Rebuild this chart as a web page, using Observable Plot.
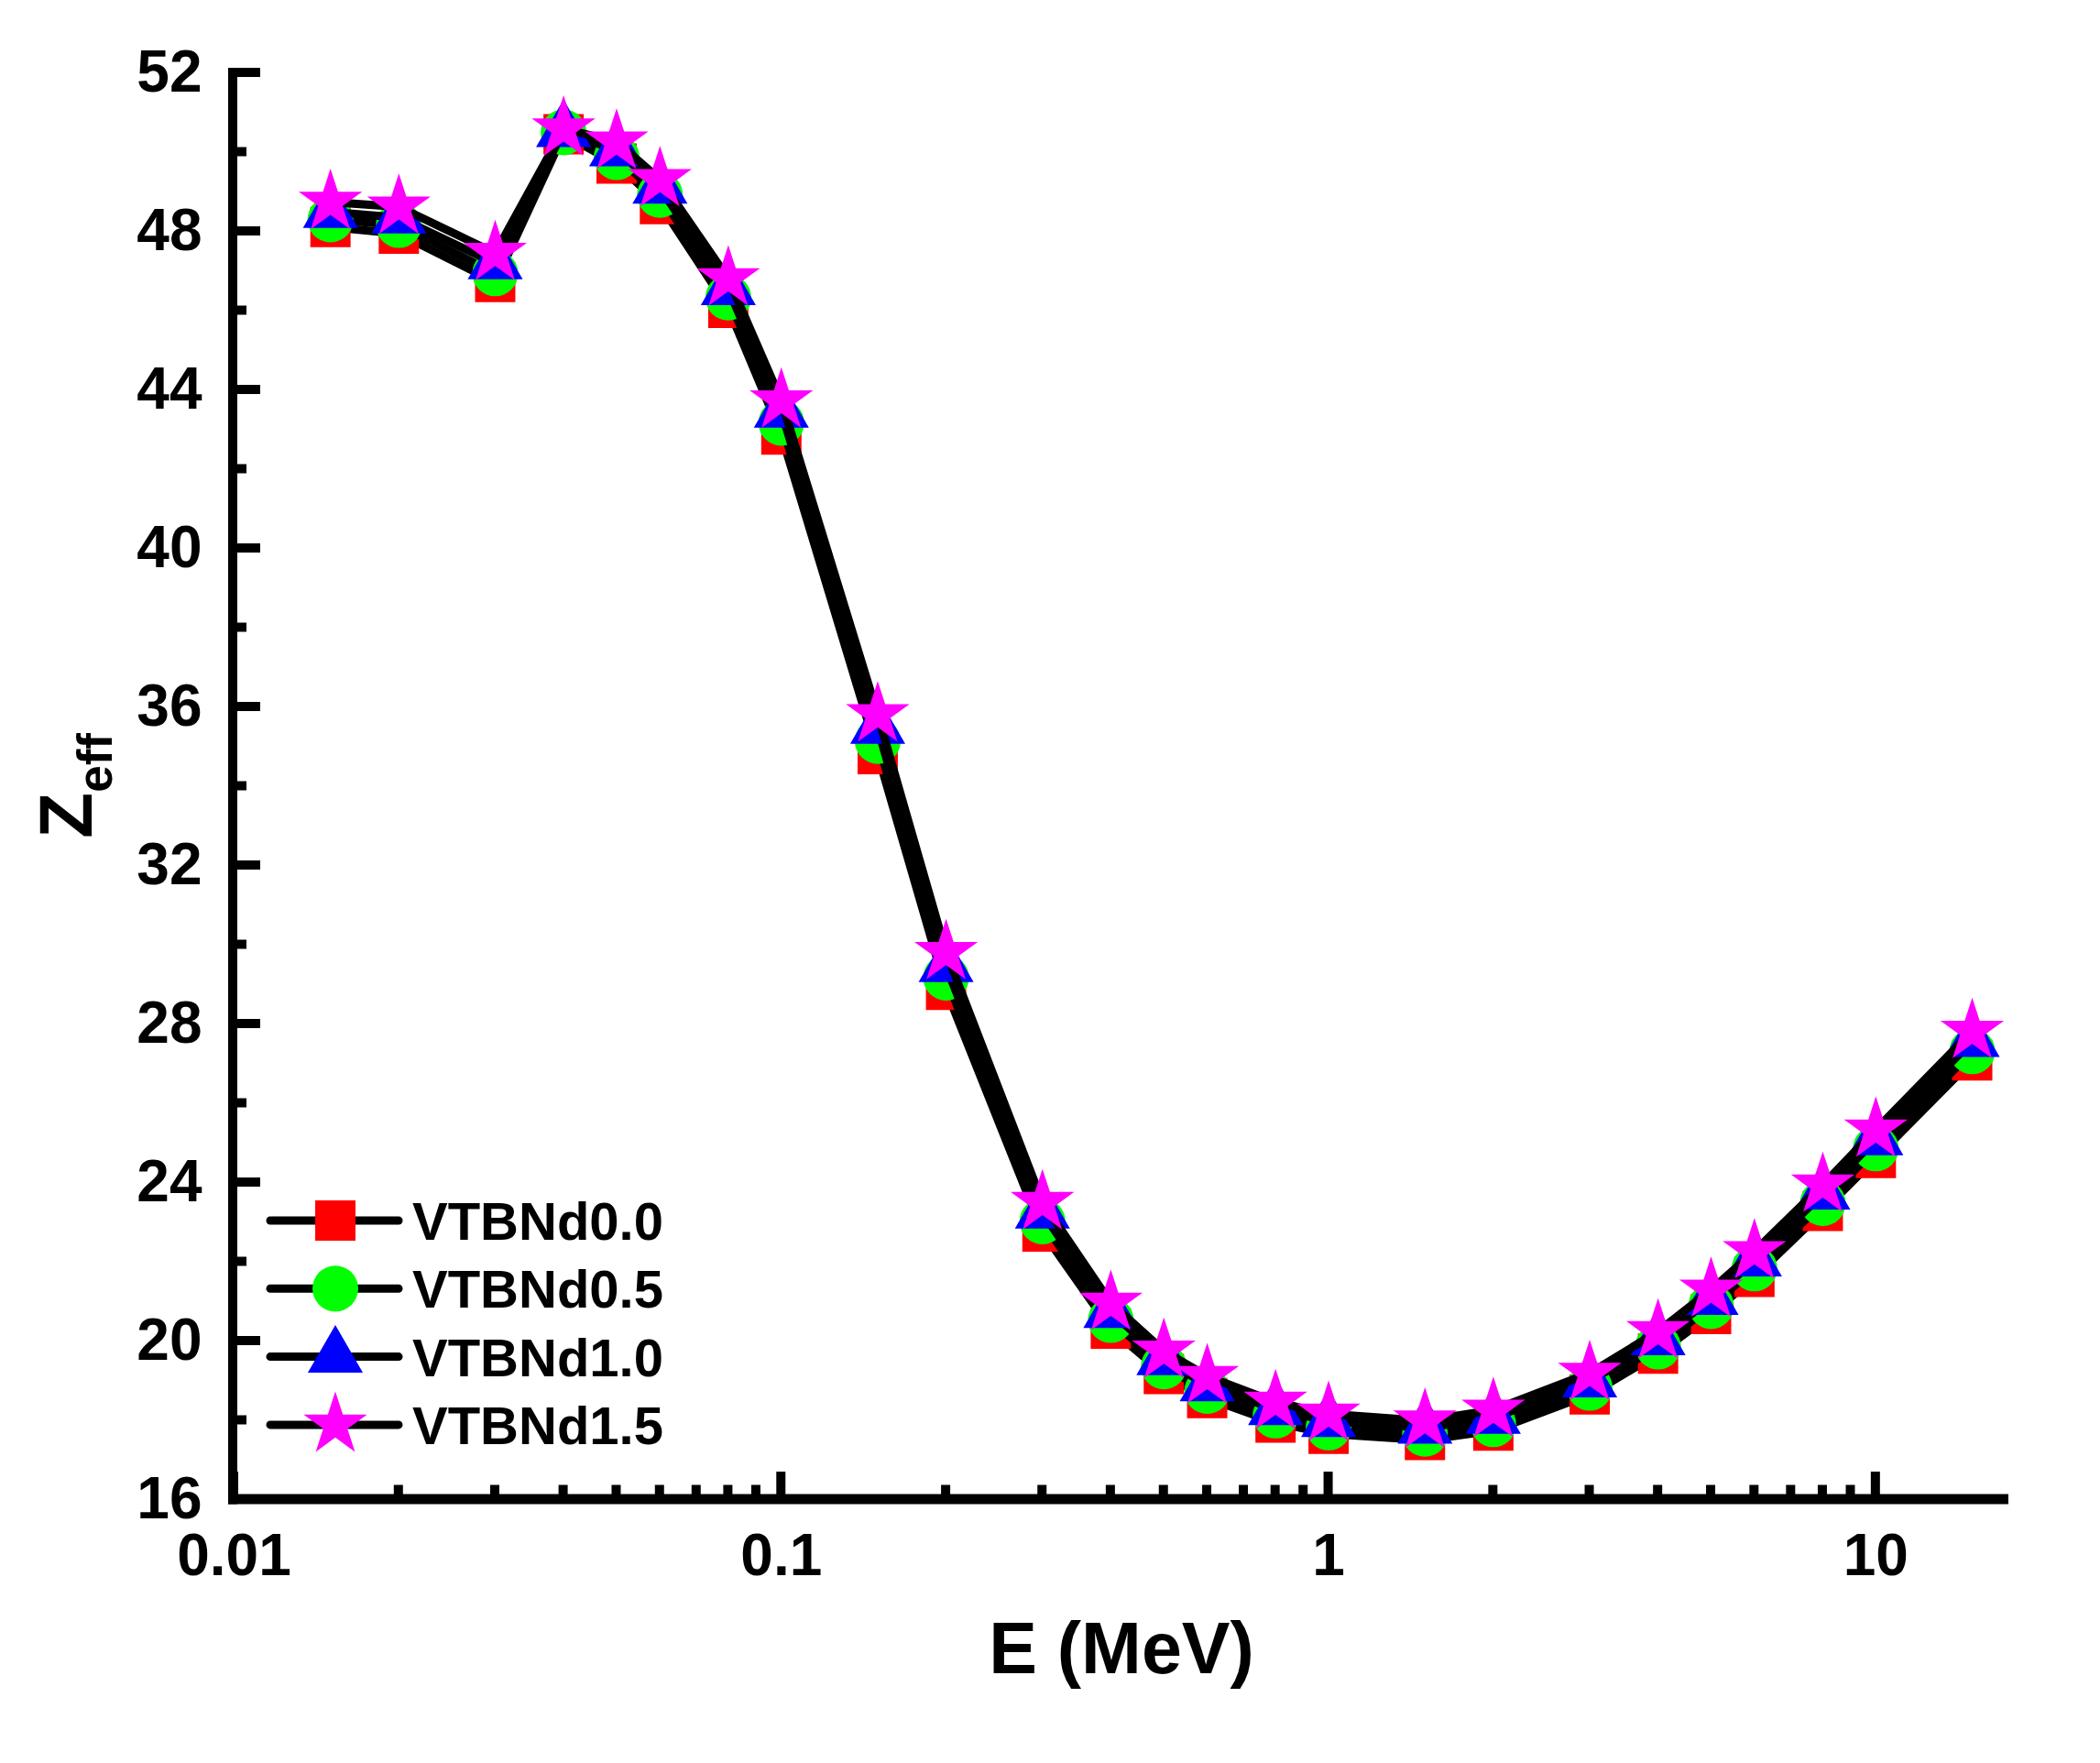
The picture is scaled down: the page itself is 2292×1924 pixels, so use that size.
<!DOCTYPE html>
<html>
<head>
<meta charset="utf-8">
<script src="https://cdn.jsdelivr.net/npm/d3@7"></script>
<script src="https://cdn.jsdelivr.net/npm/@observablehq/plot@0.6"></script>
<style>
  html, body { margin: 0; padding: 0; background: #fff; overflow: hidden; }
  #chart svg { display: block; }
</style>
</head>
<body>
<div id="chart"></div>
<script>
// photon energies (MeV)
const energies = [0.015, 0.02, 0.03, 0.04, 0.05, 0.06, 0.08, 0.1, 0.15, 0.2, 0.3, 0.4, 0.5, 0.6, 0.8, 1, 1.5, 2, 3, 4, 5, 6, 8, 10, 15];

// Zeff
const vtbnd00 = [48.11, 47.94, 46.72, 50.45, 49.71, 48.69, 46.07, 42.87, 34.81, 28.86, 22.76, 20.31, 19.17, 18.56, 17.94, 17.66, 17.50, 17.74, 18.65, 19.68, 20.68, 21.62, 23.28, 24.62, 27.08];
const vtbnd05 = [48.30, 48.16, 46.94, 50.50, 49.87, 48.92, 46.33, 43.17, 35.14, 29.17, 23.02, 20.53, 19.36, 18.74, 18.12, 17.82, 17.66, 17.90, 18.82, 19.86, 20.88, 21.83, 23.48, 24.86, 27.31];
const vtbnd10 = [48.49, 48.35, 47.19, 50.53, 50.04, 49.10, 46.54, 43.45, 35.47, 29.46, 23.24, 20.73, 19.54, 18.88, 18.28, 17.98, 17.81, 18.06, 18.98, 20.04, 21.06, 22.03, 23.72, 25.09, 27.57];
const vtbnd15 = [48.74, 48.62, 47.45, 50.59, 50.26, 49.31, 46.81, 43.73, 35.81, 29.81, 23.50, 20.96, 19.75, 19.11, 18.46, 18.16, 17.99, 18.26, 19.19, 20.24, 21.29, 22.26, 23.94, 25.33, 27.82];

const seriesNames = ["VTBNd0.0", "VTBNd0.5", "VTBNd1.0", "VTBNd1.5"];
const seriesValues = [vtbnd00, vtbnd05, vtbnd10, vtbnd15];

// ticks
const xTicks = [0.01, 0.1, 1, 10];
const xMinorTicks = [0.02, 0.03, 0.04, 0.05, 0.06, 0.07, 0.08, 0.09, 0.2, 0.3, 0.4, 0.5, 0.6, 0.7, 0.8, 0.9, 2, 3, 4, 5, 6, 7, 8, 9];
const yTicks = [16, 20, 24, 28, 32, 36, 40, 44, 48, 52];
const yMinorTicks = [18, 22, 26, 30, 34, 38, 42, 46, 50];

const xTitle = "E (MeV)";

// look of each series (symbol, colour, size)
const seriesStyle = [
  {symbol: "square", fill: "#ff0000", r: 24.8},
  {symbol: "circle", fill: "#00ff00", r: 25},
  {symbol: "triangle", fill: "#0000ff", r: 22.3},
  {symbol: "star", fill: "#ff00ff", r: 21.8}
];

const FONT = "'Liberation Sans', Arial, Helvetica, sans-serif";
const LINE_W = 9;

const rowsOf = (values) => energies.map((e, i) => ({E: e, Z: values[i]}));

// axis lines + inward ticks, drawn with the plot's own scales
function axisFrame(index, {x, y}) {
  const g = d3.create("svg:g").attr("stroke", "#000").attr("fill", "none").attr("stroke-linecap", "butt");
  const [dx0, dx1] = x.domain();
  const [dy0, dy1] = y.domain();
  const xl = x(dx0) - 1, xr = x(dx1), yb = y(dy0), yt = y(dy1);
  g.append("line").attr("x1", xl).attr("x2", xl).attr("y1", yt - 5).attr("y2", yb + 5.5).attr("stroke-width", 10);
  g.append("line").attr("x1", xl - 5).attr("x2", xr).attr("y1", yb).attr("y2", yb).attr("stroke-width", 11);
  for (const v of yTicks) g.append("line").attr("x1", xl + 4).attr("x2", xl + 30).attr("y1", y(v)).attr("y2", y(v)).attr("stroke-width", 10);
  for (const v of yMinorTicks) g.append("line").attr("x1", xl + 4).attr("x2", xl + 15).attr("y1", y(v)).attr("y2", y(v)).attr("stroke-width", 10);
  for (const v of xTicks) g.append("line").attr("x1", x(v)).attr("x2", x(v)).attr("y1", yb - 5).attr("y2", yb - 30).attr("stroke-width", 10);
  for (const v of xMinorTicks) g.append("line").attr("x1", x(v)).attr("x2", x(v)).attr("y1", yb - 5).attr("y2", yb - 15.5).attr("stroke-width", 10);
  return g.node();
}

// rotated Z_eff title
function yTitle(index, {y}) {
  const [d0, d1] = y.domain();
  const yc = (y(d0) + y(d1)) / 2;
  const t = d3.create("svg:text")
    .attr("transform", `translate(100,${yc}) rotate(-90)`)
    .attr("text-anchor", "middle")
    .attr("font-family", FONT)
    .attr("font-weight", "bold")
    .attr("fill", "#000");
  t.append("tspan").attr("font-size", 82).text("Z");
  t.append("tspan").attr("font-size", 53).attr("dy", 22).text("eff");
  return t.node();
}

// legend in the lower left corner
function legend() {
  const g = d3.create("svg:g").attr("text-anchor", "start");
  const top = 1332, step = 74.3;
  seriesNames.forEach((name, i) => {
    const cy = top + i * step;
    const st = seriesStyle[i];
    g.append("line").attr("x1", 295).attr("x2", 435).attr("y1", cy).attr("y2", cy)
      .attr("stroke", "#000").attr("stroke-width", LINE_W).attr("stroke-linecap", "round");
    const sym = {square: d3.symbolSquare, circle: d3.symbolCircle, triangle: d3.symbolTriangle, star: d3.symbolStar}[st.symbol];
    g.append("path").attr("transform", `translate(366,${cy})`)
      .attr("d", d3.symbol(sym, Math.PI * st.r * st.r)())
      .attr("fill", st.fill);
    g.append("text").attr("x", 450).attr("y", cy + 21)
      .attr("text-anchor", "start")
      .attr("font-family", FONT).attr("font-weight", "bold").attr("font-size", 58)
      .attr("fill", "#000").text(name);
  });
  return g.node();
}

const seriesMarks = seriesValues.flatMap((values, i) => [
  Plot.line(rowsOf(values), {x: "E", y: "Z", stroke: "#000", strokeWidth: LINE_W}),
  Plot.dot(rowsOf(values), {x: "E", y: "Z", symbol: seriesStyle[i].symbol, fill: seriesStyle[i].fill, r: seriesStyle[i].r})
]);

const chart = Plot.plot({
  width: 2292,
  height: 1924,
  marginLeft: 255,
  marginRight: 100,
  marginTop: 79,
  marginBottom: 288,
  style: {fontFamily: FONT, fontWeight: "bold", color: "#000", background: "#fff", overflow: "visible"},
  x: {type: "log", domain: [0.01, 17.5]},
  y: {domain: [16, 52]},
  marks: [
    Plot.axisX(xTicks, {tickSize: 0, tickPadding: 37, tickFormat: d => String(d), fontSize: 64, fontWeight: "bold", label: null}),
    Plot.axisY(yTicks, {tickSize: 0, tickPadding: 35, tickFormat: d => String(d), fontSize: 64, fontWeight: "bold", label: null}),
    Plot.text([xTitle], {frameAnchor: "bottom", dy: 189, fontSize: 79, fontWeight: "bold", fill: "#000"}),
    yTitle,
    ...seriesMarks,
    axisFrame,
    legend
  ]
});

document.getElementById("chart").appendChild(chart);
</script>
</body>
</html>
